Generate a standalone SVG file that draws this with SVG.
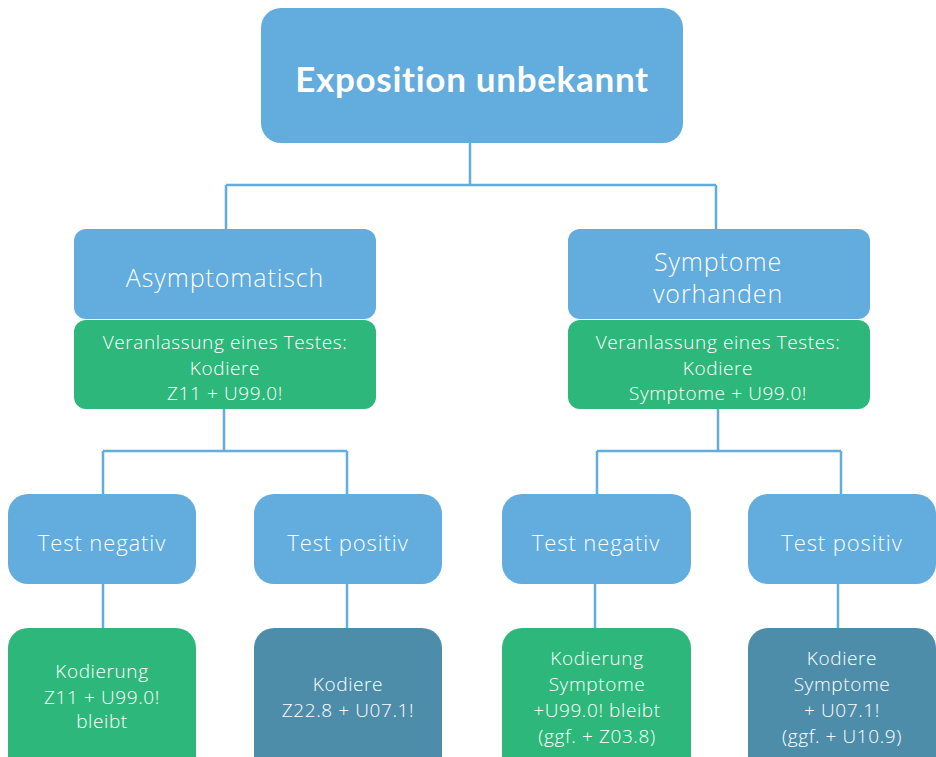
<svg xmlns="http://www.w3.org/2000/svg" width="936" height="757" viewBox="0 0 936 757">
<style>
.blue{fill:#62ACDE}
.green{fill:#2EB77B}
.teal{fill:#4E8DAA}
.t{font-family:"Open Sans","Liberation Sans",sans-serif;font-weight:300;fill:#fff;text-anchor:middle}
.big{font-size:25px;letter-spacing:0.9px}
.mid{font-size:22px;letter-spacing:0.9px}
.sm{font-size:19px;letter-spacing:0.6px}
.title{font-family:Lato,"Liberation Sans",sans-serif;font-size:35px;font-weight:bold;letter-spacing:0.7px}
.ln{stroke:#62ACDE;stroke-width:2.5;fill:none}
</style>
<rect width="936" height="757" fill="#fff"/>
<g id="connectors">
<path class="ln" d="M470 143V185M226 185H716M226 185V229M716 185V229"/>
<path class="ln" d="M224 409V451M103 451H347M103 451V494M347 451V494"/>
<path class="ln" d="M718 409V451M597 451H841M597 451V494M841 451V494"/>
<path class="ln" d="M103 584V628M347 584V628M595 584V628M838 584V628"/>
</g>
<g id="root">
<rect class="blue" x="261" y="8" width="422" height="135" rx="20"/>
<text class="t title" x="472" y="92">Exposition unbekannt</text>
</g>
<g id="asym">
<rect class="blue" x="74" y="229" width="302" height="90" rx="12"/>
<text class="t big" x="225" y="287">Asymptomatisch</text>
</g>
<g id="asym-test">
<rect class="green" x="74" y="320" width="302" height="89" rx="12"/>
<text class="t sm" x="225" y="349">Veranlassung eines Testes:</text>
<text class="t sm" x="225" y="375">Kodiere</text>
<text class="t sm" x="225" y="400">Z11 + U99.0!</text>
</g>
<g id="sym">
<rect class="blue" x="568" y="229" width="302" height="90" rx="12"/>
<text class="t big" x="718" y="271">Symptome</text>
<text class="t big" x="718" y="303">vorhanden</text>
</g>
<g id="sym-test">
<rect class="green" x="568" y="320" width="302" height="89" rx="12"/>
<text class="t sm" x="718" y="349">Veranlassung eines Testes:</text>
<text class="t sm" x="718" y="375">Kodiere</text>
<text class="t sm" x="718" y="400">Symptome + U99.0!</text>
</g>
<g id="asym-neg">
<rect class="blue" x="8" y="494" width="188" height="90" rx="20"/>
<text class="t mid" x="102" y="551">Test negativ</text>
</g>
<g id="asym-pos">
<rect class="blue" x="254" y="494" width="188" height="90" rx="20"/>
<text class="t mid" x="348" y="551">Test positiv</text>
</g>
<g id="sym-neg">
<rect class="blue" x="502" y="494" width="189" height="90" rx="20"/>
<text class="t mid" x="596" y="551">Test negativ</text>
</g>
<g id="sym-pos">
<rect class="blue" x="748" y="494" width="188" height="90" rx="20"/>
<text class="t mid" x="842" y="551">Test positiv</text>
</g>
<g id="asym-neg-code">
<rect class="green" x="8" y="628" width="188" height="150" rx="20"/>
<text class="t sm" x="102" y="678">Kodierung</text>
<text class="t sm" x="102" y="704">Z11 + U99.0!</text>
<text class="t sm" x="102" y="728">bleibt</text>
</g>
<g id="asym-pos-code">
<rect class="teal" x="254" y="628" width="188" height="150" rx="20"/>
<text class="t sm" x="348" y="691">Kodiere</text>
<text class="t sm" x="348" y="717">Z22.8 + U07.1!</text>
</g>
<g id="sym-neg-code">
<rect class="green" x="502" y="628" width="189" height="150" rx="20"/>
<text class="t sm" x="597" y="665">Kodierung</text>
<text class="t sm" x="597" y="691">Symptome</text>
<text class="t sm" x="597" y="717">+U99.0! bleibt</text>
<text class="t sm" x="597" y="743">(ggf. + Z03.8)</text>
</g>
<g id="sym-pos-code">
<rect class="teal" x="748" y="628" width="188" height="150" rx="20"/>
<text class="t sm" x="842" y="665">Kodiere</text>
<text class="t sm" x="842" y="691">Symptome</text>
<text class="t sm" x="842" y="717">+ U07.1!</text>
<text class="t sm" x="842" y="743">(ggf. + U10.9)</text>
</g>
</svg>
